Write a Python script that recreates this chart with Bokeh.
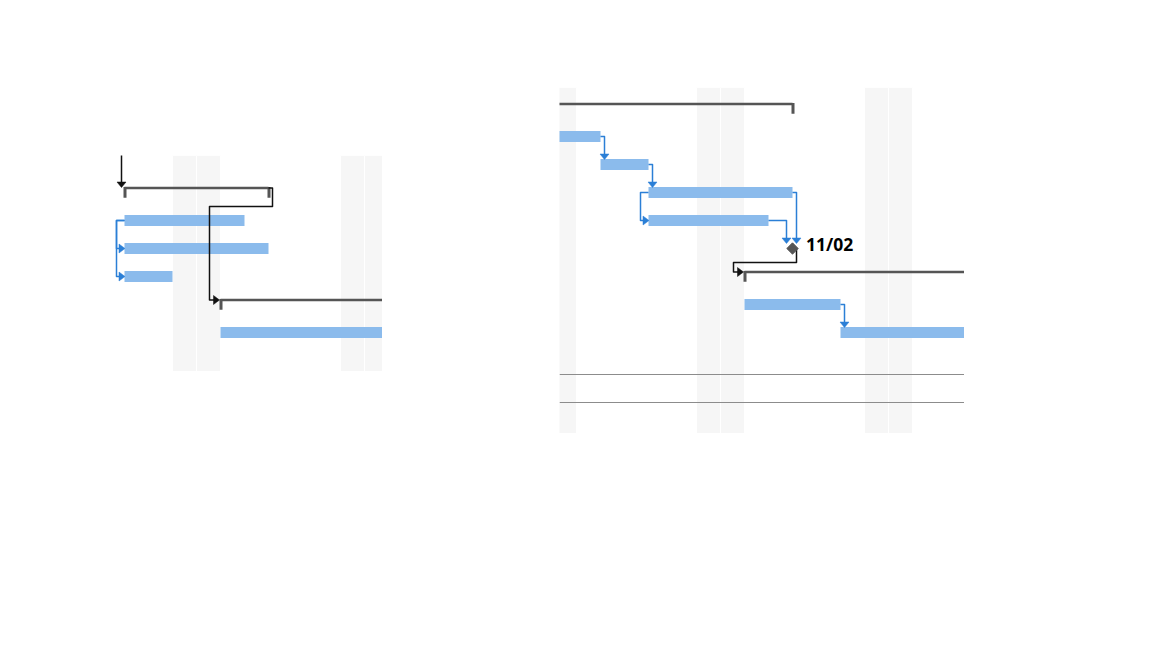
import math
from bokeh.plotting import figure
from bokeh.layouts import row, column
from bokeh.models import Spacer, Range1d, Label
from bokeh.embed import file_html
from bokeh.resources import INLINE

# ---------------- data ----------------
# Left panel (days counted from the first task's start)
L_weekend_days = [2, 3, 9, 10]
L_rows = [0, 1, 2, 3, 4, 5]
L_start = [0, 0, 0, 0, 4, 4]
L_end = [6, 5, 6, 2, 14, 14]
L_kind = ["summary", "task", "task", "task", "summary", "task"]
L_links = [(0, 4, "FS"), (1, 2, "SS"), (1, 3, "SS")]
L_incoming = [0]

# Right panel
R_weekend_days = [-1, 5, 6, 12, 13]
R_rows = [0, 1, 2, 3, 4, 5, 6, 7, 8]
R_start = [-3, -3, 1, 3, 3, 9, 7, 7, 11]
R_end = [9, 1, 3, 9, 8, 9, 20, 11, 20]
R_kind = ["summary", "task", "task", "task", "task", "milestone", "summary", "task", "task"]
R_links = [(1, 2, "FS"), (2, 3, "FS"), (3, 4, "SS"), (4, 5, "FS"), (3, 5, "FS"), (5, 6, "FS"), (7, 8, "FS")]
R_rules = [9.5, 10.5]
R_milestone_labels = {5: "11/02"}

# ---------------- style ----------------
DAY_PX = 24.0
ROW_PX = 28.0
BAR = "#8BBBEC"
LINK_BLUE = "#2B7FD6"
LINK_BLACK = "#111111"
SUMMARY = "#555555"
SHADE = "#F6F6F6"


def px_x(p):
    return p / DAY_PX


def px_y(p):
    return p / ROW_PX


def make_panel(W, H, x0, y0, weekend, rows, start, end, kind, links,
               incoming=(), rules=(), labels=None):
    x1 = x0 + W / DAY_PX
    y1 = y0 + H / ROW_PX
    p = figure(width=W, height=H, x_range=Range1d(x0, x1), y_range=Range1d(y1, y0),
               x_axis_type=None, y_axis_type=None, toolbar_location=None,
               output_backend="svg", min_border=0, outline_line_color=None)
    p.grid.visible = False
    p.background_fill_color = "white"
    p.border_fill_color = "white"

    # weekend shading
    p.quad(left=[d for d in weekend], right=[d + 1 for d in weekend],
           top=[y0] * len(weekend), bottom=[y1] * len(weekend),
           fill_color=SHADE, line_color="white", line_width=1)

    for yr in rules:
        p.segment(x0=[x0], x1=[x1], y0=[yr], y1=[yr], line_color="#8C8C8C", line_width=1)

    # bars
    for r, s, e, k in zip(rows, start, end, kind):
        if k == "task":
            p.quad(left=[s], right=[e], top=[r - px_y(5.5)], bottom=[r + px_y(5.5)],
                   fill_color=BAR, line_color=None)
        elif k == "summary":
            p.segment(x0=[s], x1=[e], y0=[r - px_y(4.5)], y1=[r - px_y(4.5)],
                      line_color=SUMMARY, line_width=2.5)
            p.segment(x0=[s + px_x(0.5), e + px_x(0.5)], x1=[s + px_x(0.5), e + px_x(0.5)],
                      y0=[r - px_y(5.5)] * 2, y1=[r + px_y(5.2)] * 2,
                      line_color=SUMMARY, line_width=3)

    def anchor_y(i):
        return rows[i] - px_y(4.5) if kind[i] == "summary" else rows[i]

    def top_y(i):
        return rows[i] - px_y(5.5)

    xs, ys, cols = [], [], []
    tri_x, tri_y, tri_c = [], [], []

    def down_arrow(x, ytip, c):
        tri_x.append([x - px_x(4.5), x + px_x(4.5), x])
        tri_y.append([ytip - px_y(5.5), ytip - px_y(5.5), ytip])
        tri_c.append(c)

    def right_arrow(xtip, y, c):
        tri_x.append([xtip - px_x(6), xtip - px_x(6), xtip])
        tri_y.append([y - px_y(4.5), y + px_y(4.5), y])
        tri_c.append(c)

    for a, b, t in links:
        c = LINK_BLACK if (kind[a] == "summary" or kind[b] == "summary") else LINK_BLUE
        if t == "SS":
            xv = start[a] - px_x(8)
            xs.append([start[a], xv, xv, start[b] - px_x(4)])
            ys.append([rows[a], rows[a], rows[b], rows[b]])
            cols.append(c)
            right_arrow(start[b] + px_x(0.5), rows[b], c)
        else:
            pe, sb = end[a], start[b]
            ya = anchor_y(a)
            if sb >= pe:
                xv = sb - px_x(6) if pe < sb else pe + px_x(4)
                yt = top_y(b)
                xs.append([pe, xv, xv])
                ys.append([ya, ya, yt - px_y(3)])
                cols.append(c)
                down_arrow(xv, yt + px_y(0.5), c)
            else:
                xv1 = pe + px_x(4)
                yb = rows[a] + 0.5
                xv2 = sb - px_x(11)
                ysb = anchor_y(b)
                xs.append([pe, xv1, xv1, xv2, xv2, sb - px_x(5)])
                ys.append([ya, ya, yb, yb, ysb, ysb])
                cols.append(c)
                right_arrow(sb - px_x(1), ysb, c)

    for i in incoming:
        xv = start[i] - px_x(3)
        yt = rows[i] - px_y(5)
        xs.append([xv, xv])
        ys.append([y0 - 1, yt - px_y(3)])
        cols.append(LINK_BLACK)
        down_arrow(xv, yt, LINK_BLACK)

    if xs:
        p.multi_line(xs=xs, ys=ys, line_color=cols, line_width=1.5, line_join="round")
    if tri_x:
        p.patches(xs=tri_x, ys=tri_y, fill_color=tri_c, line_color=tri_c, line_width=0.5)

    # milestones
    for i, k in enumerate(kind):
        if k == "milestone":
            p.scatter(x=[start[i]], y=[rows[i]], marker="square", size=8, angle=math.pi / 4,
                      fill_color=SUMMARY, line_color=SUMMARY)
            if labels and i in labels:
                p.add_layout(Label(x=start[i] + px_x(13.5), y=rows[i] - px_y(4.5), text=labels[i],
                                   text_font="Open Sans", text_font_style="bold",
                                   text_font_size="17.5px", text_color="#000000",
                                   text_baseline="alphabetic"))
    return p


left = make_panel(282, 216, -1.0, -37 / ROW_PX, L_weekend_days, L_rows, L_start, L_end,
                  L_kind, L_links, incoming=L_incoming)
right = make_panel(405, 346, -17 / DAY_PX, -21 / ROW_PX, R_weekend_days, R_rows, R_start, R_end,
                   R_kind, R_links, rules=R_rules, labels=R_milestone_labels)

layout = row(
    Spacer(width=100, height=10),
    column(Spacer(width=10, height=155), left),
    Spacer(width=177, height=10),
    column(Spacer(width=10, height=87), right),
)

open("out.html", "w").write(file_html(layout, INLINE))
